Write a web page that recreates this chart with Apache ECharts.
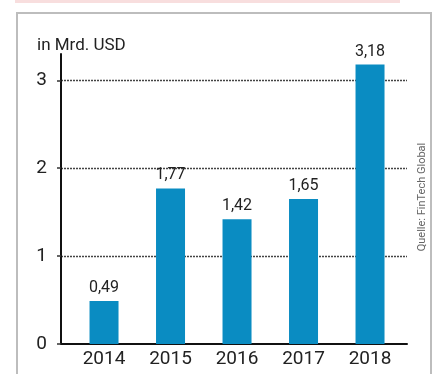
<!DOCTYPE html>
<html>
<head>
<meta charset="utf-8">
<script src="https://cdn.jsdelivr.net/npm/echarts@6/dist/echarts.min.js"></script>
<style>html,body{margin:0;padding:0;background:#fff}#c{width:435px;height:374px}</style>
</head>
<body>
<div id="c"></div>
<script>
const years = [2014, 2015, 2016, 2017, 2018];
const values = [0.49, 1.77, 1.42, 1.65, 3.18];
const yTicks = [0, 1, 2, 3];
const unitLabel = 'in Mrd. USD';
const sourceLabel = 'Quelle: FinTech Global';

const FONT = "Roboto, 'Liberation Sans', sans-serif";
const chart = echarts.init(document.getElementById('c'), null, {renderer: 'canvas'});
const fmt = v => String(v).replace('.', ',');

chart.setOption({
  animation: false,
  backgroundColor: '#fff',
  grid: {left: 61, right: 28, top: 54, bottom: 30, containLabel: false},
  xAxis: {
    type: 'value',
    min: 2013.353,
    max: 2018.556,
    axisLine: {show: true, onZero: false, lineStyle: {color: '#111', width: 2}},
    axisTick: {show: false},
    splitLine: {show: false},
    axisLabel: {
      customValues: years,
      formatter: v => String(v),
      fontFamily: FONT, fontSize: 19, color: '#222', margin: 6
    }
  },
  yAxis: {
    type: 'value',
    min: 0,
    max: 3.3,
    interval: 1,
    axisLine: {show: true, lineStyle: {color: '#111', width: 2}},
    axisTick: {show: true, customValues: yTicks, length: 4, lineStyle: {color: '#333', width: 1.5}},
    axisLabel: {
      customValues: yTicks,
      formatter: v => String(v),
      fontFamily: FONT, fontSize: 19, color: '#222', margin: 14
    },
    splitLine: {
      show: true, showMaxLine: true, showMinLine: false,
      lineStyle: {color: '#444', width: 1.3, type: [2, 1]}
    }
  },
  series: [{
    type: 'bar',
    data: years.map((y, i) => [y, values[i]]),
    barWidth: 29,
    itemStyle: {color: '#0a8cc2'},
    label: {
      show: true, position: 'top', distance: 5,
      formatter: p => fmt(p.value[1]),
      fontFamily: FONT, fontSize: 16, color: '#222'
    },
    z: 3
  }],
  graphic: [
    {type: 'rect', shape: {x: 17, y: 13, width: 414, height: 380}, style: {fill: 'none', stroke: '#bdbdbd', lineWidth: 2}, z: 0},
    {type: 'rect', shape: {x: 15, y: 0, width: 385, height: 3}, style: {fill: '#f8dede'}, z: 0},
    {type: 'text', x: 37, y: 46, style: {text: unitLabel, font: "17px " + FONT, fill: '#222', textVerticalAlign: 'middle'}, z: 5},
    {type: 'text', x: 422, y: 197, rotation: Math.PI / 2,
     style: {text: sourceLabel, font: "11px " + FONT, fill: '#666', textAlign: 'center', textVerticalAlign: 'middle'}, z: 5}
  ]
});
</script>
</body>
</html>
